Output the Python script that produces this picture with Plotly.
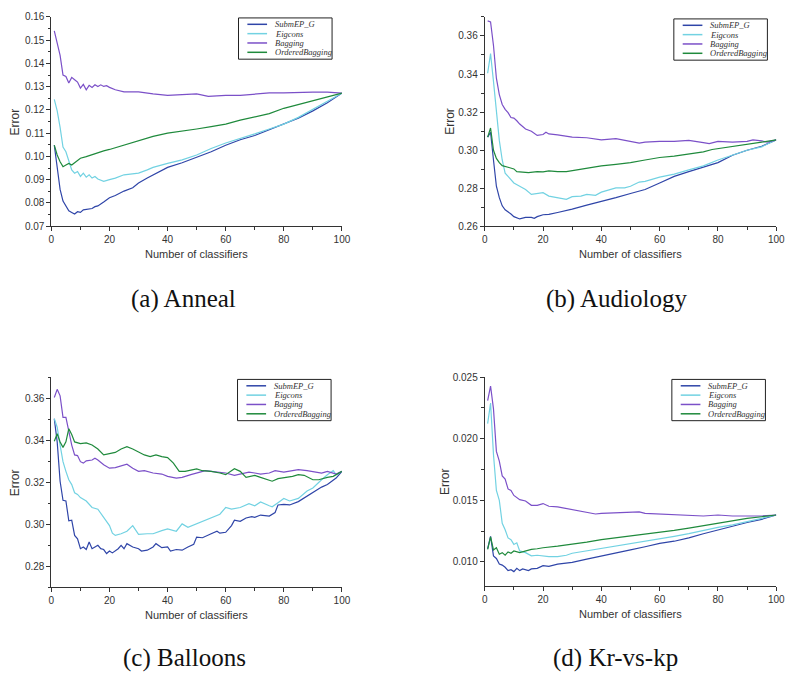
import plotly.graph_objects as go

W, H = 794, 678
OFF = 8  # page body margin of the html page

# ---------------- data ----------------
series_names = ["SubmEP_G", "Eigcons", "Bagging", "OrderedBagging"]
series_colors = ["#2f45a8", "#72d2e2", "#7b50c8", "#1f8a3c"]

# (a) Anneal
anneal_submep_x = [1,2,3,4,5,6,7,8,9,10,11,12,14,15,16,18,20,22,25,28,30,33,35,40,45,50,55,60,65,70,75,80,85,90,95,100]
anneal_submep_y = [0.1048,0.0942,0.0858,0.0808,0.0784,0.0766,0.0759,0.0752,0.0762,0.0759,0.0770,0.0773,0.0776,0.0784,0.0787,0.0804,0.0822,0.0832,0.0851,0.0865,0.0886,0.0907,0.0921,0.0953,0.0973,0.0996,0.1020,0.1048,0.1072,0.1090,0.1114,0.1139,0.1165,0.1196,0.1231,0.1272]
anneal_eig_x = [1,2,3,4,5,6,7,8,9,10,11,12,13,14,15,16,18,20,22,25,28,30,33,35,40,45,50,55,60,65,70,75,80,85,90,95,100]
anneal_eig_y = [0.1245,0.1196,0.1125,0.1040,0.1020,0.0985,0.0942,0.0928,0.0935,0.0914,0.0928,0.0911,0.0921,0.0907,0.0914,0.0903,0.0893,0.0900,0.0907,0.0921,0.0925,0.0928,0.0942,0.0953,0.0970,0.0985,0.1006,0.1034,0.1058,0.1076,0.1097,0.1118,0.1139,0.1168,0.1203,0.1235,0.1272]
anneal_bag_x = [1,2,3,4,5,6,7,8,9,10,11,12,13,14,15,16,17,18,19,20,22,25,30,35,40,45,50,54,60,65,70,75,80,85,90,95,100]
anneal_bag_y = [0.1540,0.1490,0.1435,0.1350,0.1344,0.1316,0.1340,0.1330,0.1320,0.1294,0.1310,0.1287,0.1306,0.1297,0.1308,0.1301,0.1308,0.1301,0.1304,0.1297,0.1287,0.1278,0.1278,0.1269,0.1263,0.1266,0.1269,0.1258,0.1263,0.1263,0.1267,0.1273,0.1273,0.1276,0.1277,0.1277,0.1272]
anneal_ord_x = [1,2,3,4,5,6,7,8,9,10,12,15,18,20,25,30,35,40,45,50,55,60,65,70,75,80,85,90,95,100]
anneal_ord_y = [0.1048,0.1006,0.0977,0.0956,0.0963,0.0970,0.0963,0.0973,0.0985,0.0992,0.0999,0.1013,0.1024,0.1030,0.1048,0.1069,0.1086,0.1100,0.1108,0.1118,0.1128,0.1139,0.1156,0.1170,0.1184,0.1207,0.1224,0.1238,0.1255,0.1272]

# (b) Audiology
audio_submep_x = [1,2,3,4,5,6,7,8,9,10,12,14,16,17,18,20,22,25,28,30,35,40,45,50,55,60,65,70,75,80,85,90,95,100]
audio_submep_y = [0.3068,0.3094,0.2948,0.2810,0.2750,0.2707,0.2686,0.2676,0.2664,0.2650,0.2638,0.2646,0.2646,0.2641,0.2650,0.2660,0.2662,0.2672,0.2681,0.2690,0.2711,0.2729,0.2750,0.2772,0.2793,0.2827,0.2862,0.2887,0.2910,0.2934,0.2973,0.2999,0.3020,0.3054]
audio_eig_x = [1,2,3,4,5,6,7,8,9,10,12,14,16,18,20,22,25,28,30,33,35,38,40,43,45,48,50,53,55,60,65,70,75,80,85,90,95,100]
audio_eig_y = [0.3404,0.3507,0.3361,0.3189,0.3051,0.2948,0.2879,0.2862,0.2844,0.2827,0.2810,0.2793,0.2767,0.2772,0.2776,0.2758,0.2750,0.2741,0.2755,0.2758,0.2767,0.2762,0.2779,0.2793,0.2801,0.2801,0.2810,0.2832,0.2836,0.2858,0.2874,0.2896,0.2917,0.2948,0.2973,0.2999,0.3017,0.3054]
audio_bag_x = [1,2,3,4,5,6,7,8,9,10,11,12,14,16,18,20,21,22,25,28,30,35,40,45,50,53,55,60,65,70,75,77,80,85,90,92,95,97,100]
audio_bag_y = [0.3679,0.3674,0.3550,0.3378,0.3292,0.3240,0.3214,0.3197,0.3171,0.3168,0.3154,0.3137,0.3111,0.3099,0.3077,0.3082,0.3094,0.3085,0.3080,0.3071,0.3068,0.3065,0.3054,0.3060,0.3048,0.3037,0.3042,0.3046,0.3046,0.3051,0.3039,0.3034,0.3046,0.3042,0.3046,0.3054,0.3048,0.3042,0.3054]
audio_ord_x = [1,2,3,4,5,6,8,10,11,12,15,18,20,22,25,28,30,33,35,40,45,50,55,60,65,70,75,78,80,85,90,95,100]
audio_ord_y = [0.3068,0.3116,0.2999,0.2956,0.2934,0.2918,0.2910,0.2901,0.2887,0.2886,0.2882,0.2887,0.2886,0.2891,0.2887,0.2887,0.2892,0.2900,0.2905,0.2917,0.2925,0.2934,0.2948,0.2961,0.2968,0.2979,0.2991,0.3003,0.3008,0.3020,0.3031,0.3042,0.3054]

# (c) Balloons
ball_submep_x = [1,2,3,4,5,6,7,8,9,10,11,12,13,14,15,16,17,18,19,20,21,23,24,25,26,28,30,31,33,35,36,38,40,41,43,45,47,49,50,52,55,57,58,60,62,63,65,67,69,70,72,75,77,78,80,82,85,88,90,93,95,98,100]
ball_submep_y = [0.3502,0.3392,0.3205,0.3114,0.3111,0.3017,0.3020,0.2947,0.2931,0.2884,0.2892,0.2880,0.2916,0.2884,0.2892,0.2900,0.2884,0.2880,0.2861,0.2873,0.2864,0.2884,0.2900,0.2884,0.2908,0.2892,0.2884,0.2873,0.2877,0.2892,0.2908,0.2889,0.2892,0.2873,0.2880,0.2877,0.2892,0.2905,0.2939,0.2936,0.2955,0.2967,0.2958,0.2962,0.2994,0.3020,0.3014,0.3030,0.3036,0.3033,0.3044,0.3039,0.3056,0.3092,0.3095,0.3092,0.3108,0.3134,0.3155,0.3177,0.3189,0.3220,0.3252]
ball_eig_x = [1,2,3,4,5,6,7,8,9,10,12,14,16,18,20,21,22,24,26,28,30,33,35,38,40,43,45,47,50,55,58,60,62,65,68,70,72,75,76,78,80,82,85,88,90,93,95,97,98,100]
ball_eig_y = [0.3502,0.3462,0.3377,0.3298,0.3252,0.3212,0.3189,0.3150,0.3142,0.3127,0.3111,0.3080,0.3072,0.3033,0.2994,0.2958,0.2947,0.2955,0.2967,0.2994,0.2952,0.2955,0.2955,0.2970,0.2978,0.2967,0.3002,0.2986,0.3002,0.3030,0.3048,0.3080,0.3072,0.3080,0.3098,0.3088,0.3106,0.3088,0.3083,0.3103,0.3123,0.3111,0.3123,0.3158,0.3173,0.3212,0.3236,0.3255,0.3236,0.3252]
ball_bag_x = [1,2,3,4,5,6,7,8,9,10,11,12,14,15,16,18,20,22,25,26,28,30,32,35,38,40,43,45,48,50,53,55,60,63,65,68,70,72,75,77,80,83,85,88,90,93,95,98,100]
ball_bag_y = [0.3603,0.3642,0.3611,0.3509,0.3509,0.3439,0.3377,0.3330,0.3327,0.3298,0.3291,0.3302,0.3306,0.3314,0.3306,0.3283,0.3267,0.3270,0.3280,0.3286,0.3267,0.3252,0.3255,0.3244,0.3239,0.3228,0.3220,0.3223,0.3236,0.3244,0.3255,0.3252,0.3244,0.3233,0.3239,0.3248,0.3244,0.3239,0.3244,0.3255,0.3248,0.3255,0.3260,0.3255,0.3252,0.3244,0.3252,0.3239,0.3252]
ball_ord_x = [1,2,3,4,5,6,7,8,10,12,14,16,18,20,22,24,26,28,30,32,34,36,38,40,42,44,46,48,50,52,55,58,60,63,65,67,70,72,75,76,78,80,83,85,87,90,92,95,97,100]
ball_ord_y = [0.3395,0.3431,0.3392,0.3366,0.3392,0.3455,0.3427,0.3392,0.3384,0.3387,0.3377,0.3358,0.3330,0.3337,0.3342,0.3358,0.3369,0.3358,0.3342,0.3330,0.3322,0.3330,0.3322,0.3317,0.3291,0.3252,0.3252,0.3259,0.3264,0.3255,0.3252,0.3244,0.3236,0.3264,0.3252,0.3223,0.3233,0.3223,0.3212,0.3205,0.3217,0.3220,0.3228,0.3236,0.3233,0.3212,0.3212,0.3223,0.3228,0.3252]

# (d) Kr-vs-kp
kr_submep_x = [1,2,3,4,5,6,7,8,9,10,11,12,13,14,15,16,18,20,22,25,28,30,35,40,45,50,55,60,65,70,75,80,85,90,95,100]
kr_submep_y = [0.01106,0.01207,0.01048,0.01027,0.00981,0.00973,0.00955,0.00928,0.00936,0.00920,0.00947,0.00928,0.00942,0.00936,0.00928,0.00942,0.00947,0.00968,0.00963,0.00981,0.00989,0.00995,0.01021,0.01048,0.01074,0.01096,0.01122,0.01149,0.01167,0.01194,0.01228,0.01260,0.01286,0.01319,0.01345,0.01380]
kr_eig_x = [1,2,3,4,5,6,7,8,9,10,11,12,14,16,18,20,22,25,28,30,35,40,45,50,55,60,65,70,75,80,85,90,95,100]
kr_eig_y = [0.02123,0.02290,0.01871,0.01579,0.01499,0.01313,0.01260,0.01194,0.01180,0.01141,0.01154,0.01088,0.01074,0.01048,0.01053,0.01048,0.01042,0.01042,0.01053,0.01069,0.01088,0.01106,0.01127,0.01149,0.01167,0.01188,0.01207,0.01228,0.01255,0.01279,0.01300,0.01327,0.01353,0.01380]
kr_bag_x = [1,2,3,4,5,6,7,8,9,10,12,14,16,18,20,22,25,28,30,35,38,40,45,50,53,55,60,65,70,75,80,85,90,95,100]
kr_bag_y = [0.02309,0.02428,0.02242,0.01897,0.01818,0.01698,0.01672,0.01592,0.01579,0.01539,0.01505,0.01494,0.01459,0.01459,0.01473,0.01451,0.01446,0.01433,0.01425,0.01406,0.01388,0.01393,0.01398,0.01406,0.01406,0.01393,0.01388,0.01380,0.01372,0.01372,0.01380,0.01372,0.01372,0.01372,0.01380]
kr_ord_x = [1,2,3,4,5,6,7,8,9,10,12,14,16,18,20,25,30,35,40,45,50,55,60,65,70,75,80,85,90,95,100]
kr_ord_y = [0.01101,0.01202,0.01096,0.01114,0.01061,0.01074,0.01053,0.01080,0.01069,0.01088,0.01074,0.01088,0.01101,0.01106,0.01114,0.01127,0.01141,0.01159,0.01180,0.01194,0.01212,0.01228,0.01239,0.01255,0.01273,0.01292,0.01313,0.01335,0.01353,0.01366,0.01380]

captions = ["(a) Anneal", "(b) Audiology", "(c) Balloons", "(d) Kr-vs-kp"]
y_ranges = [[0.07, 0.16], [0.26, 0.37], [0.27, 0.37], [0.008, 0.025]]
y_dticks = [0.01, 0.02, 0.02, 0.005]
y_formats = [".2f", ".2f", ".2f", ".3f"]
x_tick_vals = [0, 20, 40, 60, 80, 100]

panels = [
    [(anneal_submep_x, anneal_submep_y), (anneal_eig_x, anneal_eig_y), (anneal_bag_x, anneal_bag_y), (anneal_ord_x, anneal_ord_y)],
    [(audio_submep_x, audio_submep_y), (audio_eig_x, audio_eig_y), (audio_bag_x, audio_bag_y), (audio_ord_x, audio_ord_y)],
    [(ball_submep_x, ball_submep_y), (ball_eig_x, ball_eig_y), (ball_bag_x, ball_bag_y), (ball_ord_x, ball_ord_y)],
    [(kr_submep_x, kr_submep_y), (kr_eig_x, kr_eig_y), (kr_bag_x, kr_bag_y), (kr_ord_x, kr_ord_y)],
]

# ---------------- layout geometry (page pixels) ----------------
areas = [(49, 344, 11, 224), (489, 785, 11, 224), (49, 344, 377.7, 591.7), (489, 785, 377.7, 590.7)]
legend_pos = [(239, 12), (681, 13), (238, 380), (679, 380)]
ytitle_x = [12, 453, 12, 448]
caption_pos = [(183, 298), (623, 298), (184, 664), (622, 664)]


def px(x):
    return (x - OFF) / W


def py(y):
    return 1 - (y - OFF) / H


fig = go.Figure()
shapes = []
annotations = []
AX_COLOR = "#333333"
tick_font = dict(family="Liberation Sans, Arial, sans-serif", size=10, color=AX_COLOR)

for i, (series, area) in enumerate(zip(panels, areas)):
    n = "" if i == 0 else str(i + 1)
    xa, ya = "x" + n, "y" + n
    for (sx, sy), name, color in zip(series, series_names, series_colors):
        fig.add_trace(go.Scatter(x=sx, y=sy, mode="lines", name=name,
                                 line=dict(color=color, width=1.2),
                                 xaxis=xa, yaxis=ya, showlegend=False))
    l, r, t, b = area
    fig.layout["xaxis" + n] = dict(
        domain=[px(l), px(r)], range=[0, 100], anchor=ya,
        showline=True, linecolor=AX_COLOR, linewidth=1,
        ticks="outside", ticklen=4, tickcolor=AX_COLOR,
        tickvals=x_tick_vals, tickfont=tick_font,
        minor=dict(ticks="outside", ticklen=2.5, dtick=10, tickcolor=AX_COLOR),
        showgrid=False, zeroline=False,
    )
    fig.layout["yaxis" + n] = dict(
        domain=[py(b), py(t)], range=y_ranges[i], anchor=xa,
        showline=True, linecolor=AX_COLOR, linewidth=1,
        ticks="outside", ticklen=4, tickcolor=AX_COLOR,
        dtick=y_dticks[i], tick0=0, tickformat=y_formats[i], tickfont=tick_font,
        minor=dict(ticks="outside", ticklen=2.5, dtick=y_dticks[i] / 2, tickcolor=AX_COLOR),
        showgrid=False, zeroline=False,
    )
    annotations.append(dict(x=px((l + r) / 2), y=py(b + 28), xref="paper", yref="paper",
                            text="Number of classifiers", showarrow=False,
                            font=dict(family="Liberation Sans, Arial, sans-serif", size=11, color=AX_COLOR),
                            xanchor="center", yanchor="middle"))
    annotations.append(dict(x=px(ytitle_x[i]), y=py((t + b) / 2), xref="paper", yref="paper",
                            text="Error", showarrow=False, textangle=-90,
                            font=dict(family="Liberation Sans, Arial, sans-serif", size=12, color=AX_COLOR),
                            xanchor="center", yanchor="middle"))
    cx, cy = caption_pos[i]
    annotations.append(dict(x=px(cx), y=py(cy), xref="paper", yref="paper",
                            text=captions[i], showarrow=False,
                            font=dict(family="Liberation Serif, DejaVu Serif, serif", size=25, color="#111111"),
                            xanchor="center", yanchor="middle"))
    lx, ly = legend_pos[i]
    shapes.append(dict(type="rect", xref="paper", yref="paper",
                       x0=px(lx), x1=px(lx + 95), y0=py(ly), y1=py(ly + 42),
                       line=dict(color="#222222", width=1), fillcolor="white", layer="above"))
    for k, (name, color) in enumerate(zip(series_names, series_colors)):
        ry = ly + 6.5 + 9.5 * k
        shapes.append(dict(type="line", xref="paper", yref="paper",
                           x0=px(lx + 9), x1=px(lx + 29), y0=py(ry), y1=py(ry),
                           line=dict(color=color, width=1.5), layer="above"))
        annotations.append(dict(x=px(lx + 35), y=py(ry), xref="paper", yref="paper",
                                text="<i>" + name + "</i>", showarrow=False,
                                font=dict(family="Liberation Serif, DejaVu Serif, serif", size=8.5, color="#333333"),
                                xanchor="left", yanchor="middle"))

fig.update_layout(
    width=W, height=H, margin=dict(l=0, r=0, t=0, b=0),
    paper_bgcolor="white", plot_bgcolor="white",
    shapes=shapes, annotations=annotations, showlegend=False,
)

fig.write_html("out.html")
